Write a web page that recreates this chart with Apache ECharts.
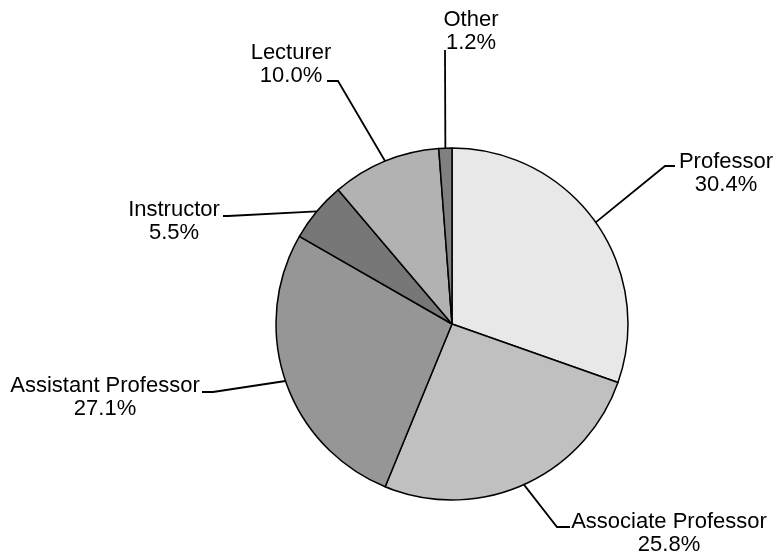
<!DOCTYPE html>
<html>
<head>
<meta charset="utf-8">
<script src="https://cdn.jsdelivr.net/npm/echarts@6/dist/echarts.min.js"></script>
<style>
  html, body { margin: 0; padding: 0; background: #fff; }
  #main { width: 778px; height: 557px; }
</style>
</head>
<body>
<div id="main"></div>
<script>
// 数据
var categories = ["Professor", "Associate Professor", "Assistant Professor", "Instructor", "Lecturer", "Other"];
var shares = [30.4, 25.8, 27.1, 5.5, 10.0, 1.2];
var sliceColors = ["#e8e8e8", "#c0c0c0", "#969696", "#777777", "#b2b2b2", "#808080"];

// 标签位置 (标签中心) 及引线终点
var labelCenter = [[726, 173], [669, 533], [105, 397], [174, 221], [291, 64], [471, 31]];
var lineEnd = [[675, 166], [570, 527], [202, 392], [223, 216], [327, 81], [445, 50]];
var lineElbow = [[665, 166], [557, 527], [213, 392], [228, 216], [338, 81], [445, 50]];

var cx = 452, cy = 324, r = 176;
var total = shares.reduce(function (a, b) { return a + b; }, 0);

// 扇区中点在边缘上的位置
function edgePoint(i) {
  var before = 0;
  for (var k = 0; k < i; k++) before += shares[k];
  var mid = (before + shares[i] / 2) / total * Math.PI * 2;
  return [cx + r * Math.sin(mid), cy - r * Math.cos(mid)];
}

var myChart = echarts.init(document.getElementById("main"));
myChart.setOption({
  backgroundColor: "#fff",
  animation: false,
  series: [
    {
      type: "pie",
      center: [cx, cy],
      radius: r,
      startAngle: 90,
      clockwise: true,
      data: categories.map(function (name, i) {
        return { name: name, value: shares[i], itemStyle: { color: sliceColors[i] } };
      }),
      itemStyle: { borderColor: "#000", borderWidth: 1.5 },
      label: {
        show: true,
        position: "outside",
        formatter: function (p) {
          return "{n|" + p.name + "}\n{n|" + p.value.toFixed(1) + "%}";
        },
        rich: {
          n: {
            fontFamily: "Liberation Sans, Arial, sans-serif",
            fontSize: 22,
            lineHeight: 23,
            color: "#000",
            align: "center"
          }
        }
      },
      labelLine: {
        show: true,
        lineStyle: { color: "#000", width: 1.8 }
      },
      labelLayout: function (params) {
        var i = params.dataIndex;
        return {
          x: labelCenter[i][0],
          y: labelCenter[i][1],
          align: "center",
          verticalAlign: "middle",
          labelLinePoints: [edgePoint(i), lineElbow[i], lineEnd[i]]
        };
      },
      emphasis: { disabled: true }
    }
  ]
});
</script>
</body>
</html>
